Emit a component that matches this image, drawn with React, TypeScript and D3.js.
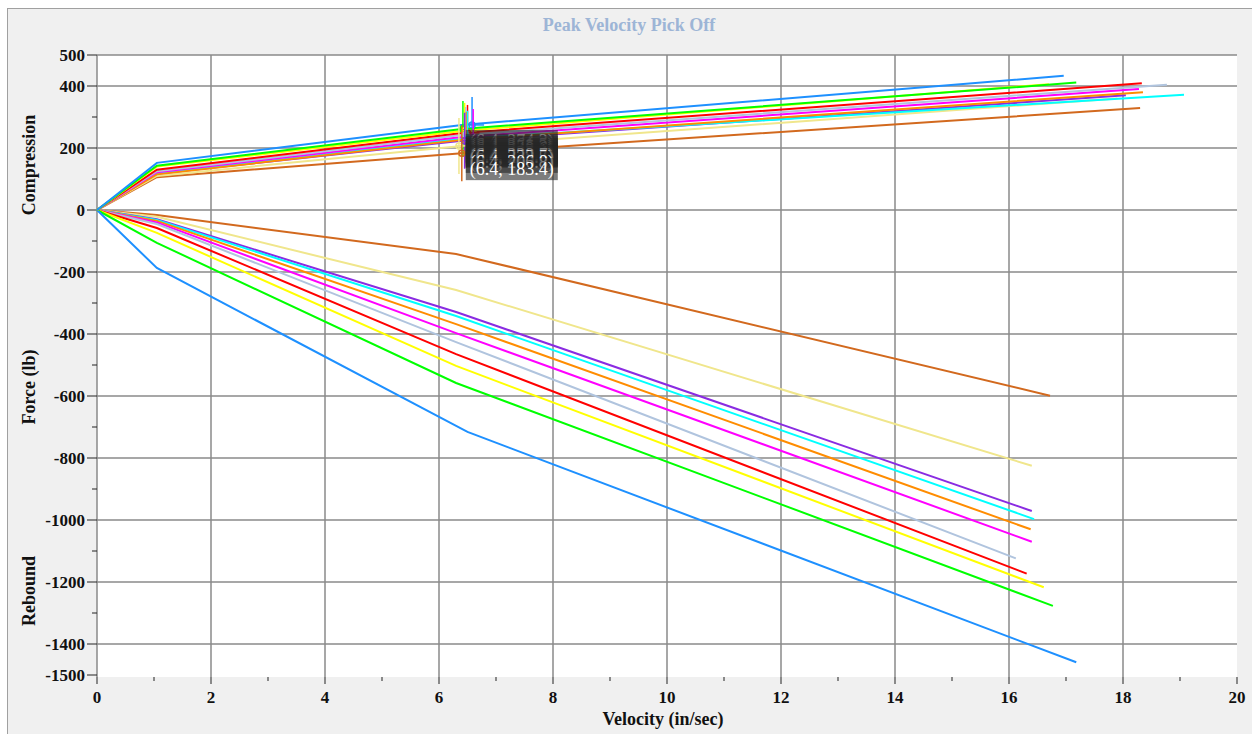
import React from "react"
import * as d3 from "d3"

// series colours, one per test run
const runColors = ["#1e90ff", "#00ff00", "#ffff00", "#ff0000", "#b0c4de", "#ff00ff", "#ff8c00", "#00ffff", "#8a2be2", "#f0e68c", "#d2691e"]

// compression side: knee, pick-off and end points
const compKneeVel = [1.05, 1.05, 1.05, 1.05, 1.05, 1.05, 1.05, 1.05, 1.05, 1.05, 1.05]
const compKnee = [152, 143, 140, 130, 125, 122, 115, 118, 117, 110, 106]
const compMidVel = [6.4, 6.4, 6.4, 6.4, 6.4, 6.4, 6.4, 6.4, 6.4, 6.4, 6.4]
const compMid = [274.3, 261.5, 255.2, 248.6, 242.1, 235.4, 226.2, 229.7, 223.5, 206.8, 183.4]
const compEndVel = [16.96, 17.18, 16.7, 18.33, 18.77, 18.28, 18.35, 19.07, 18.05, 17.9, 18.3]
const compEnd = [433, 411, 406, 409, 404, 390, 380, 372, 370, 360, 329]

// rebound side
const rebKneeVel = [1.05, 1.05, 1.05, 1.05, 1.05, 1.05, 1.05, 1.05, 1.05, 1.05, 1.05]
const rebKnee = [-187, -106, -74, -58, -45, -40, -35, -32, -30, -22, -16]
const rebMidVel = [6.5, 6.3, 6.3, 6.3, 6.3, 6.3, 6.3, 6.3, 6.3, 6.3, 6.3]
const rebMid = [-716, -558, -503, -465, -426, -397, -368, -342, -329, -258, -142]
const rebEndVel = [17.18, 16.77, 16.61, 16.31, 16.12, 16.4, 16.38, 16.44, 16.4, 16.4, 16.72]
const rebEnd = [-1459, -1277, -1217, -1173, -1124, -1070, -1030, -997, -971, -825, -599]

// pick-off cursor positions
const pickVel = [6.58, 6.42, 6.45, 6.5, 6.47, 6.6, 6.48, 6.5, 6.45, 6.35, 6.4]

const xMajor = [0, 2, 4, 6, 8, 10, 12, 14, 16, 18, 20]
const xMinor = [1, 3, 5, 7, 9, 11, 13, 15, 17, 19]
const yMajor = [500, 400, 200, 0, -200, -400, -600, -800, -1000, -1200, -1400, -1500]
const yGrid = [500, 400, 200, 0, -200, -400, -600, -800, -1000, -1200, -1400]
const yMinor = [300, 100, -100, -300, -500, -700, -900, -1100, -1300]

const W = 1252
const H = 734
const plot = { left: 97, right: 1237, top: 55, bottom: 675 }
const font = '"Liberation Serif", "Times New Roman", "DejaVu Serif", serif'

export default function App() {
  const x = d3.scaleLinear().domain([0, 20]).range([plot.left, plot.right])
  const y = d3.scaleLinear().domain([-1500, 500]).range([plot.bottom, plot.top])
  const line = d3.line<[number, number]>().x(d => x(d[0])).y(d => y(d[1]))

  const compPaths = runColors.map((c, i) => line([[0, 0], [compKneeVel[i], compKnee[i]], [compMidVel[i], compMid[i]], [compEndVel[i], compEnd[i]]]))
  const rebPaths = runColors.map((c, i) => line([[0, 0], [rebKneeVel[i], rebKnee[i]], [rebMidVel[i], rebMid[i]], [rebEndVel[i], rebEnd[i]]]))

  // draw back to front so the lowest curve sits on top, like the original
  const order = runColors.map((_, i) => i).reverse()

  return (
    <svg width={W} height={H} style={{ position: "absolute", left: 0, top: 0, fontFamily: font }}>
      <rect x={0} y={0} width={W} height={H} fill="#ffffff" />
      <rect x={7.5} y={8.5} width={W - 3} height={H} fill="#f0f0f0" stroke="#a0a0a0" />
      <text x={629} y={31} textAnchor="middle" fontSize={18} fontWeight="bold" fill="#9db5d6" style={{ fontFamily: font }}>Peak Velocity Pick Off</text>

      <rect x={plot.left} y={plot.top} width={plot.right - plot.left} height={plot.bottom - plot.top + 2} fill="#ffffff" />

      {/* grid */}
      <g stroke="#8a8a8a" strokeWidth={1.5}>
        {yGrid.map(v => <line key={"gy" + v} x1={plot.left} x2={plot.right} y1={y(v)} y2={y(v)} />)}
        {xMajor.filter(v => v > 0 && v < 20).map(v => <line key={"gx" + v} x1={x(v)} x2={x(v)} y1={plot.top} y2={plot.bottom + 2} />)}
        <line x1={plot.left} x2={plot.left} y1={plot.top} y2={plot.bottom + 2} />
      </g>

      {/* ticks */}
      <g stroke="#222" strokeWidth={1}>
        {yMajor.map(v => <line key={"ty" + v} x1={plot.left - 10} x2={plot.left} y1={y(v)} y2={y(v)} />)}
        {yMinor.map(v => <line key={"tm" + v} x1={plot.left - 5} x2={plot.left} y1={y(v)} y2={y(v)} />)}
        {xMajor.map(v => <line key={"tx" + v} x1={x(v)} x2={x(v)} y1={plot.bottom + 2} y2={plot.bottom + 9} />)}
        {xMinor.map(v => <line key={"txm" + v} x1={x(v)} x2={x(v)} y1={plot.bottom + 2} y2={plot.bottom + 6} />)}
      </g>
      <g fontSize={17} fontWeight="bold" fill="#111" style={{ fontFamily: font }}>
        {yMajor.map(v => <text key={"ly" + v} x={plot.left - 12} y={y(v)} dy="0.33em" textAnchor="end">{v}</text>)}
        {xMajor.map(v => <text key={"lx" + v} x={x(v)} y={703} textAnchor="middle">{v}</text>)}
      </g>

      <g fontSize={18} fontWeight="bold" fill="#111" textAnchor="middle" style={{ fontFamily: font }}>
        <text x={663} y={725}>Velocity (in/sec)</text>
        <text transform="translate(35,165) rotate(-90)">Compression</text>
        <text transform="translate(35,387) rotate(-90)">Force (lb)</text>
        <text transform="translate(35,591) rotate(-90)">Rebound</text>
      </g>

      {/* curves */}
      <g fill="none" strokeWidth={2}>
        {order.map(i => <path key={"r" + i} d={rebPaths[i] || ""} stroke={runColors[i]} />)}
        {order.map(i => <path key={"c" + i} d={compPaths[i] || ""} stroke={runColors[i]} />)}
      </g>

      {/* pick-off cursors */}
      <g fill="none" strokeWidth={1.5}>
        {runColors.map((c, i) => (
          <g key={"p" + i} stroke={c}>
            <line x1={x(pickVel[i])} x2={x(pickVel[i])} y1={y(compMid[i]) - 28} y2={y(compMid[i]) + 28} />
            <line x1={x(pickVel[i]) - 3} x2={x(pickVel[i]) + 12} y1={y(compMid[i])} y2={y(compMid[i])} />
            <circle cx={x(pickVel[i])} cy={y(compMid[i])} r={3} />
          </g>
        ))}
      </g>

      {/* tooltips, stacked on top of each other */}
      <g fontSize={18} style={{ fontFamily: font }}>
        {runColors.map((c, i) => {
          const tx = x(compMidVel[i]) + 4
          const ty = y(compMid[i]) + 5
          return (
            <g key={"tt" + i}>
              <rect x={tx} y={ty} width={92} height={22} fill="#262626" fillOpacity={0.6} />
              <text x={tx + 46} y={ty + 17} textAnchor="middle" fill="#ffffff">
                ({compMidVel[i].toFixed(1)}, {compMid[i].toFixed(1)})
              </text>
            </g>
          )
        })}
      </g>
    </svg>
  )
}
